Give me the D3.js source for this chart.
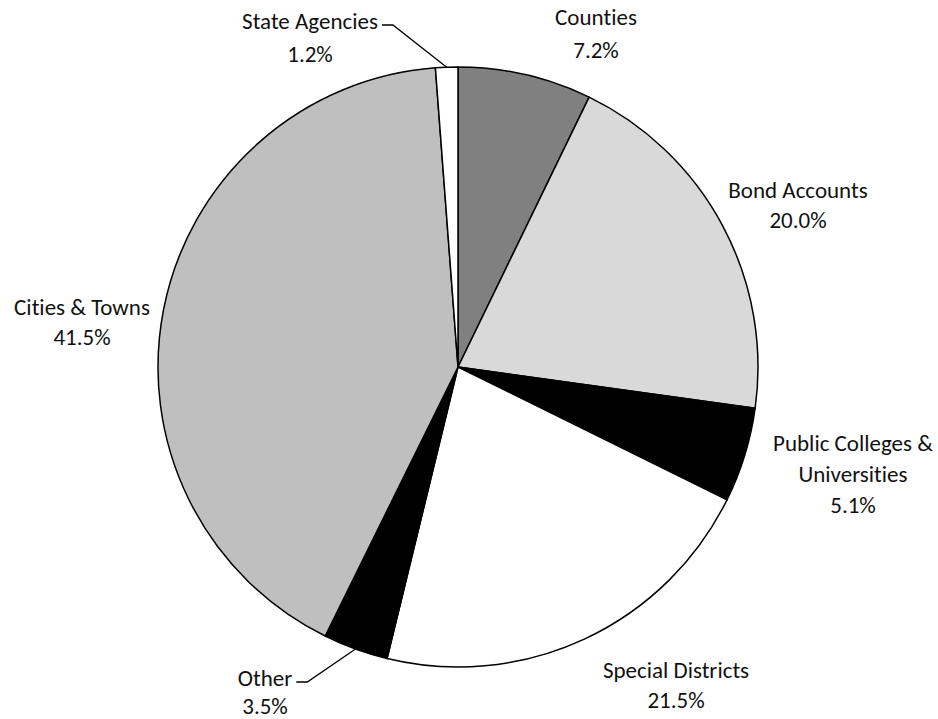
<!DOCTYPE html>
<html>
<head>
<meta charset="utf-8">
<script src="https://cdn.jsdelivr.net/npm/d3@7"></script>
<style>
  body { margin: 0; background: #fff; }
  text { font-family: Carlito, "Noto Sans", sans-serif; font-size: 23px; fill: #111;
         font-variant-ligatures: none; }
</style>
</head>
<body>
<div id="chart"></div>
<script>
// Slices in drawing order, clockwise from 12 o'clock.
var categories = ["Counties", "Bond Accounts", "Public Colleges & Universities",
                  "Special Districts", "Other", "Cities & Towns", "State Agencies"];
var shares = [7.2, 20.0, 5.1, 21.5, 3.5, 41.5, 1.2];
var fills = ["#808080", "#d9d9d9", "#000000", "#ffffff", "#000000", "#bfbfbf", "#ffffff"];

// Label text lines per slice (the last line is the percentage).
var labelLines = [
  ["Counties"], ["Bond Accounts"], ["Public Colleges &", "Universities"],
  ["Special Districts"], ["Other"], ["Cities & Towns"], ["State Agencies"]
];
// Where each label block is centred, and which ones get a leader line.
var labelAnchor = [[596, 17], [798, 190], [853, 443], [676, 670], [265, 678], [82, 307], [310, 21]];
var lineGap = [33, 30, 31, 30, 28, 30, 33];
var hasLeader = [false, false, false, false, true, false, true];

var width = 938, height = 719,
    cx = 458, cy = 367, radius = 300;

var svg = d3.select("#chart").append("svg")
    .attr("width", width)
    .attr("height", height);

var pie = d3.pie().sort(null).value(d => d);
var arcs = pie(shares);
var arc = d3.arc().innerRadius(0).outerRadius(radius);

var g = svg.append("g").attr("transform", `translate(${cx},${cy})`);

g.selectAll("path")
  .data(arcs)
  .join("path")
    .attr("d", arc)
    .attr("fill", (d, i) => fills[i])
    .attr("stroke", "#000")
    .attr("stroke-width", 1.5)
    .attr("stroke-linejoin", "round");

// Labels
arcs.forEach(function (a, i) {
  var lines = labelLines[i].concat([d3.format(".1f")(shares[i]) + "%"]);
  var t = svg.append("text")
    .attr("text-anchor", "middle")
    .attr("x", labelAnchor[i][0])
    .attr("y", labelAnchor[i][1]);
  lines.forEach(function (s, k) {
    t.append("tspan")
      .attr("x", labelAnchor[i][0])
      .attr("dy", k === 0 ? "0.35em" : lineGap[i])
      .text(s);
  });

  if (hasLeader[i]) {
    var mid = (a.startAngle + a.endAngle) / 2;
    var px = cx + radius * Math.sin(mid),
        py = cy - radius * Math.cos(mid);
    var firstW = t.select("tspan").node().getComputedTextLength();
    var x0 = labelAnchor[i][0] + firstW / 2 + 4,
        y0 = labelAnchor[i][1] + 4;
    svg.append("path")
      .attr("d", d3.line()([[x0, y0], [x0 + 11, y0], [px, py]]))
      .attr("fill", "none")
      .attr("stroke", "#000")
      .attr("stroke-width", 1.3);
  }
});
</script>
</body>
</html>
